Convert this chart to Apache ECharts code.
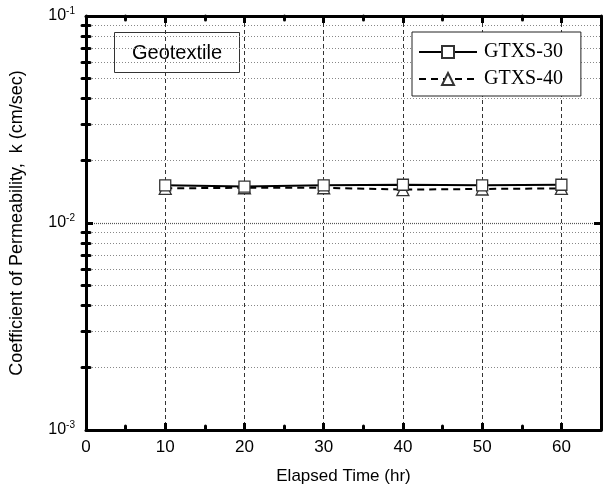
<!DOCTYPE html>
<html>
<head>
<meta charset="utf-8">
<script src="https://cdn.jsdelivr.net/npm/echarts@6/dist/echarts.min.js"></script>
<style>
  html, body { margin: 0; padding: 0; background: #fff; }
  #chart { width: 603px; height: 490px; }
</style>
</head>
<body>
<div id="chart"></div>
<script>
// Elapsed time (hr) at each measurement
const times = [10, 20, 30, 40, 50, 60];
// Coefficient of permeability k (cm/sec)
const gtxs30 = [0.0152, 0.0150, 0.0152, 0.0153, 0.0152, 0.0153];
const gtxs40 = [0.0147, 0.0148, 0.0148, 0.0145, 0.0146, 0.0147];
const seriesNames = ['GTXS-30', 'GTXS-40'];
const xTicks = [0, 10, 20, 30, 40, 50, 60];
const yDecades = [0.001, 0.01, 0.1];

// intermediate log values 2..9 within each decade
const yMinor = [];
for (let d = 0; d < yDecades.length - 1; d++) {
  for (let m = 2; m <= 9; m++) yMinor.push(+(yDecades[d] * m).toPrecision(3));
}

const FONT = '"Liberation Sans", Arial, sans-serif';
const SERIF = '"Liberation Serif", "Times New Roman", serif';

const chart = echarts.init(document.getElementById('chart'), null, { renderer: 'canvas' });

function supLabel(v) {
  const e = Math.round(Math.log10(v));
  return '{b|10}{s|' + e + '}';
}

const commonX = { type: 'value', min: 0, max: 65, interval: 10 };
const commonY = { type: 'log', logBase: 10, min: 0.001, max: 0.1 };

const axisLineStyle = { show: true, onZero: false, lineStyle: { color: '#000', width: 3 } };

const option = {
  animation: false,
  backgroundColor: '#fff',
  grid: { left: 85, right: 2, top: 16, bottom: 58, containLabel: false },
  xAxis: [
    Object.assign({}, commonX, {
      position: 'bottom',
      name: 'Elapsed Time (hr)',
      nameLocation: 'middle',
      nameGap: 38,
      nameTextStyle: { fontFamily: FONT, fontSize: 17, color: '#000' },
      axisLine: axisLineStyle,
      axisTick: { show: true, inside: true, length: 7, lineStyle: { color: '#000', width: 3 } },
      minorTick: { show: true, splitNumber: 2, length: 4, lineStyle: { color: '#000', width: 3, cap: 'round' } },
      axisLabel: { fontFamily: FONT, fontSize: 17, color: '#000', margin: 9, customValues: xTicks },
      splitLine: { show: true, lineStyle: { color: '#333', width: 1, type: [4, 3] } }
    }),
    Object.assign({}, commonX, {
      position: 'top',
      axisLine: axisLineStyle,
      axisTick: { show: true, inside: true, length: 7, lineStyle: { color: '#000', width: 3 } },
      minorTick: { show: true, splitNumber: 2, length: 4, lineStyle: { color: '#000', width: 3, cap: 'round' } },
      axisLabel: { show: false },
      splitLine: { show: false }
    })
  ],
  yAxis: [
    Object.assign({}, commonY, {
      position: 'left',
      name: 'Coefficient of Permeability,  k (cm/sec)',
      nameLocation: 'middle',
      nameRotate: 90,
      nameGap: 60,
      nameTextStyle: { fontFamily: FONT, fontSize: 18, color: '#000' },
      axisLine: axisLineStyle,
      axisTick: { show: true, inside: true, length: 7, lineStyle: { color: '#000', width: 3 } },
      axisLabel: {
        margin: 11,
        formatter: supLabel,
        rich: {
          b: { fontFamily: FONT, fontSize: 16, color: '#000' },
          s: { fontFamily: FONT, fontSize: 10, color: '#000', verticalAlign: 'bottom', padding: [0, 0, 10, 0] }
        }
      },
      splitLine: { show: true, lineStyle: { color: '#555', width: 1.2, type: [1, 1] } }
    }),
    Object.assign({}, commonY, {
      position: 'left',
      axisLine: { show: false },
      axisTick: { show: true, inside: true, length: 4, customValues: yMinor, lineStyle: { color: '#000', width: 3, cap: 'round' } },
      axisLabel: { show: false },
      splitLine: { show: true, lineStyle: { color: '#888', width: 1, type: [1, 2] } }
    }),
    Object.assign({}, commonY, {
      position: 'right',
      axisLine: axisLineStyle,
      axisTick: { show: true, inside: true, length: 7, lineStyle: { color: '#000', width: 3 } },
      axisLabel: { show: false },
      splitLine: { show: false }
    }),
    Object.assign({}, commonY, {
      position: 'right',
      axisLine: { show: false },
      axisTick: { show: true, inside: true, length: 4, customValues: yMinor, lineStyle: { color: '#000', width: 3, cap: 'round' } },
      axisLabel: { show: false },
      splitLine: { show: false }
    })
  ],
  legend: {
    orient: 'vertical',
    left: 412, top: 32,
    padding: [10, 18, 7, 6],
    itemGap: 7,
    itemWidth: 58,
    itemHeight: 15,
    borderColor: '#222', borderWidth: 1,
    backgroundColor: '#fff',
    textStyle: { fontFamily: SERIF, fontSize: 20, color: '#000', padding: [0, 0, 0, 2] },
    data: seriesNames
  },
  graphic: [
    {
      type: 'group', left: 114, top: 32, z: 100,
      children: [
        { type: 'rect', shape: { x: 0, y: 0, width: 125, height: 40 },
          style: { fill: '#fff', stroke: '#333', lineWidth: 1 } },
        { type: 'text', x: 62.5, y: 21,
          style: { text: 'Geotextile', fontFamily: FONT, fontSize: 20, fill: '#000', align: 'center', verticalAlign: 'middle' } }
      ]
    }
  ],
  series: [
    {
      name: seriesNames[1],
      type: 'line',
      z: 3,
      data: times.map((t, i) => [t, gtxs40[i]]),
      symbol: 'triangle', symbolSize: 12,
      lineStyle: { color: '#000', width: 2, type: [7, 5] },
      itemStyle: { color: '#fff', borderColor: '#333', borderWidth: 1.3 }
    },
    {
      name: seriesNames[0],
      type: 'line',
      z: 4,
      data: times.map((t, i) => [t, gtxs30[i]]),
      symbol: 'rect', symbolSize: 11,
      lineStyle: { color: '#000', width: 2, type: 'solid' },
      itemStyle: { color: '#fff', borderColor: '#333', borderWidth: 1.3 }
    }
  ]
};

chart.setOption(option);
</script>
</body>
</html>
